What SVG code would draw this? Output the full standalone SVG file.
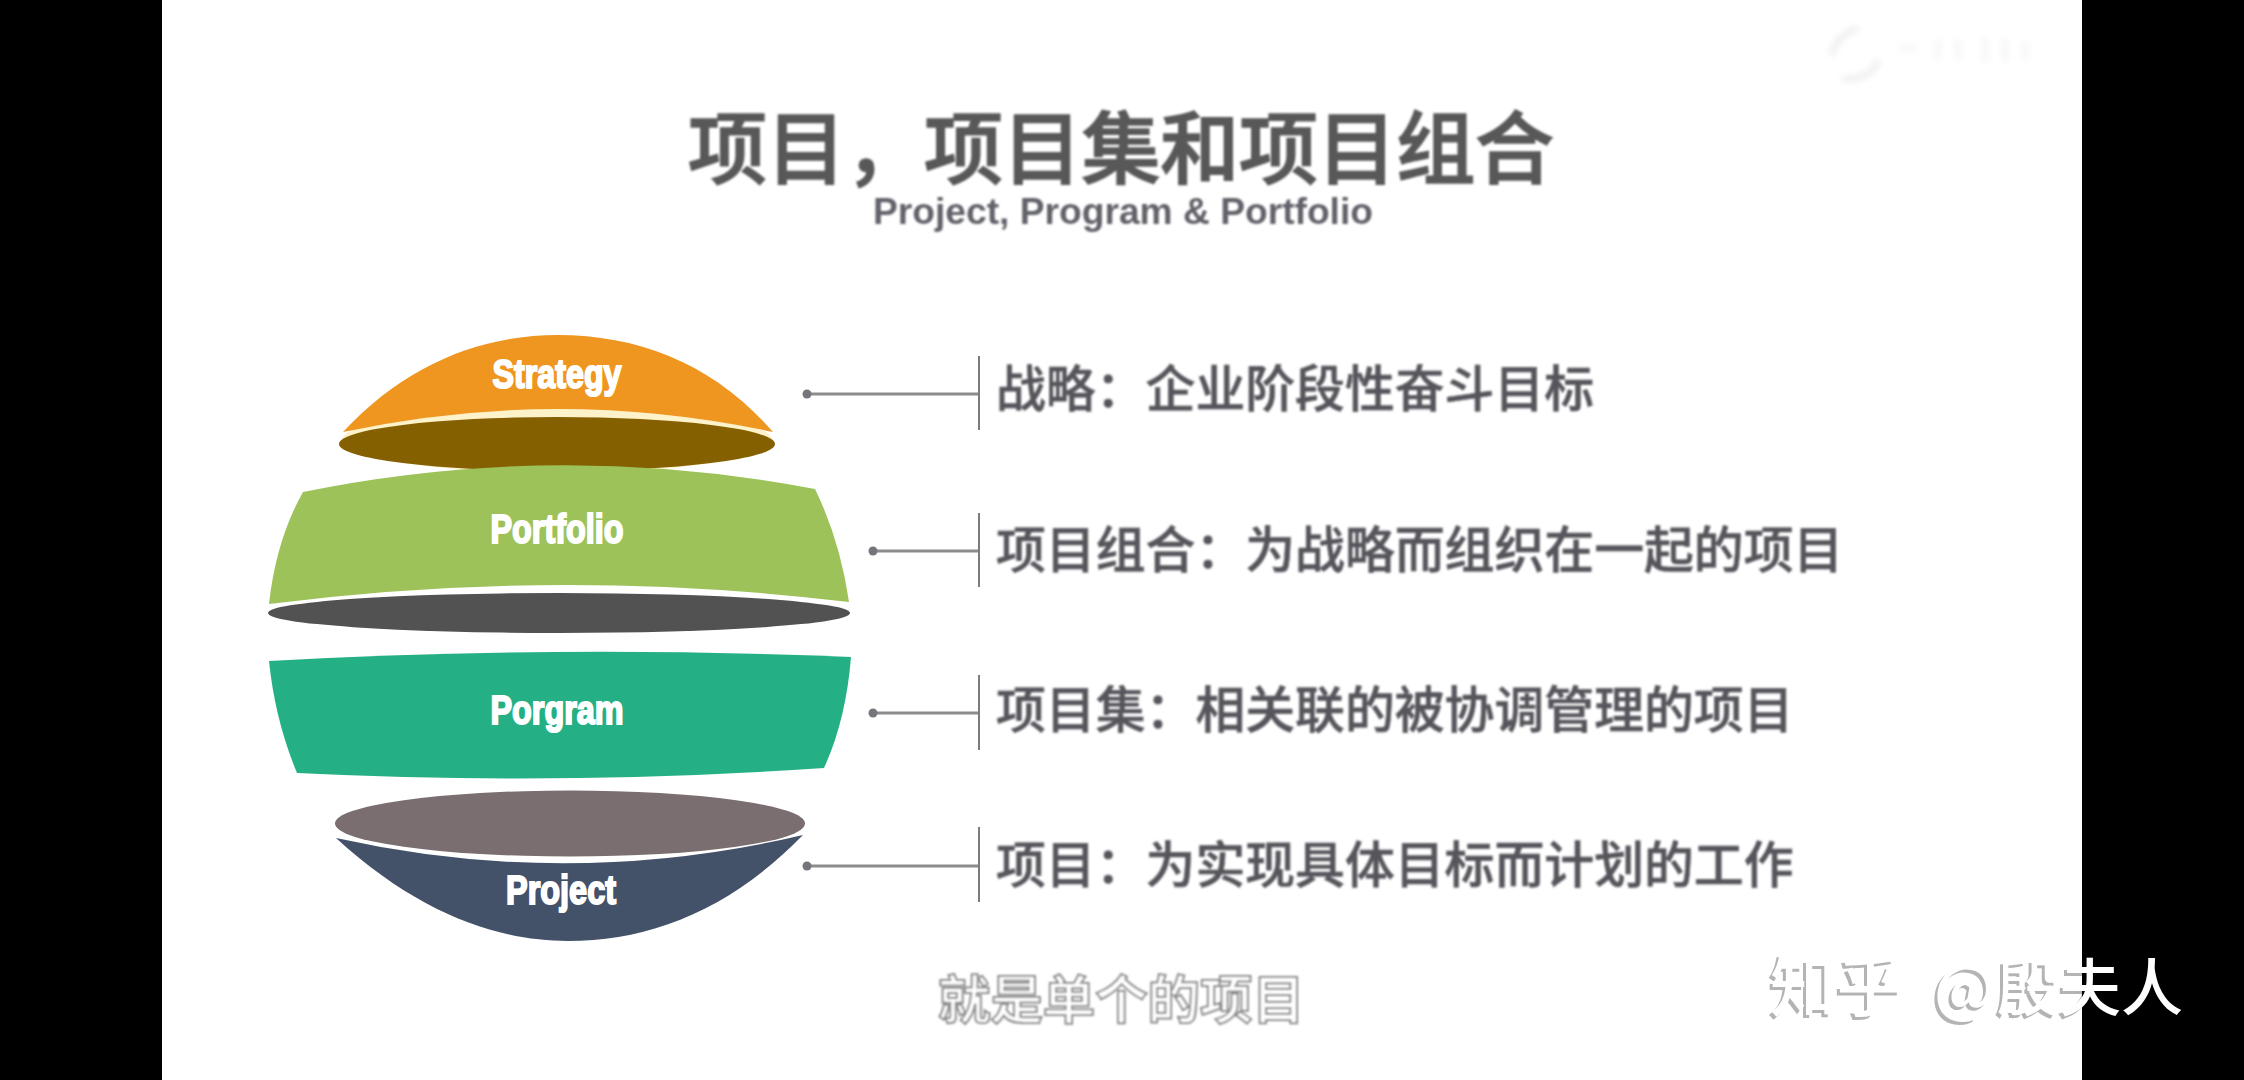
<svg xmlns="http://www.w3.org/2000/svg" width="2244" height="1080" viewBox="0 0 2244 1080">
<style>
text{font-family:"Noto Sans CJK SC","Liberation Sans",sans-serif}
.title{font-size:79px;font-weight:500;fill:#585858;stroke:#585858;stroke-width:1.6px}
.sub{font-family:"Liberation Sans",Arial,sans-serif;font-size:36px;font-weight:700;fill:#62626a}
.row{font-size:49.85px;font-weight:500;fill:#55555c;stroke:#55555c;stroke-width:0.6px}
.lab{font-family:"Liberation Sans",Arial,sans-serif;font-size:40px;font-weight:700;fill:#fff;stroke:#fff;stroke-width:2px;text-anchor:middle}
.cap{font-size:52.400px;font-weight:700;fill:#fff;stroke:#8a8a8a;stroke-width:2px}
.wm{font-size:66.500px;font-weight:500}
.wm2{font-size:62px}
.h{stroke:#8c8c8c;stroke-width:3;fill:none}
.v{stroke:#7c7c7c;stroke-width:2;fill:none}
.d{fill:#75757b}
</style>
<defs>
<filter id="soft" x="-5%" y="-20%" width="110%" height="140%"><feGaussianBlur stdDeviation="0.8"/></filter>
<filter id="faint" x="-20%" y="-20%" width="140%" height="140%"><feGaussianBlur stdDeviation="3"/></filter>
<clipPath id="onpage"><rect x="162" y="0" width="1920" height="1080"/></clipPath>
</defs>
<rect x="0" y="0" width="2244" height="1080" fill="#000"/>
<rect x="162" y="0" width="1920" height="1080" fill="#fff"/>

<g id="logo-mark" filter="url(#faint)" fill="none" stroke="#eeeeee" stroke-width="6">
<path d="M1832 55 C1834 42 1845 32 1858 28"/>
<path d="M1878 60 C1875 72 1862 80 1842 79"/>
<path d="M1900 48 H1916 M1938 40 V60 M1958 40 V60 M1985 38 V62 M2005 38 V62 M2025 42 V60" stroke="#f7f7f7" stroke-width="7"/>
</g>

<g id="title" filter="url(#soft)">
<text class="title" x="688" y="178" textLength="866" lengthAdjust="spacing">项目，项目集和项目组合</text>
<text class="sub" x="873" y="224" textLength="500" lengthAdjust="spacingAndGlyphs">Project, Program &amp; Portfolio</text>
</g>

<g id="connectors">
<path class="h" d="M807 394H979"/><path class="v" d="M979 356V430"/><circle class="d" cx="807" cy="394" r="4.5"/>
<path class="h" d="M873 551H979"/><path class="v" d="M979 513V587"/><circle class="d" cx="873" cy="551" r="4.5"/>
<path class="h" d="M873 713H979"/><path class="v" d="M979 675V750"/><circle class="d" cx="873" cy="713" r="4.5"/>
<path class="h" d="M807 866H979"/><path class="v" d="M979 827V902"/><circle class="d" cx="807" cy="866" r="4.5"/>
</g>

<g id="strategy">
<ellipse cx="557" cy="440" rx="215" ry="33" fill="#fdf2c9"/>
<path d="M343 432C405 365 480 335 558 335C640 335 715 365 773 432Q558 386 343 432Z" fill="#ee9620"/>
<ellipse cx="557" cy="444" rx="218" ry="27" fill="#846000"/>
<text class="lab" x="557" y="388" textLength="129" lengthAdjust="spacingAndGlyphs">Strategy</text>
</g>

<g id="portfolio">
<path d="M303 492Q558 440 815 489Q840 540 849 602Q558 567 269 604Q276 540 303 492Z" fill="#9dc25a"/>
<ellipse cx="559" cy="613" rx="291" ry="20" fill="#525252"/>
<text class="lab" x="557" y="543" textLength="133" lengthAdjust="spacingAndGlyphs">Portfolio</text>
</g>

<g id="program">
<path d="M269 661Q560 645 851 657Q846 720 824 768Q560 786 297 773Q275 720 269 661Z" fill="#24b084"/>
<text class="lab" x="557" y="724" textLength="133" lengthAdjust="spacingAndGlyphs">Porgram</text>
</g>

<g id="project">
<path d="M336 838C420 915 500 941 568 941C650 941 730 910 803 835Q570 890 336 838Z" fill="#435169"/>
<ellipse cx="570" cy="823.500" rx="235" ry="33" fill="#7a6e70"/>
<text class="lab" x="561" y="904" textLength="110" lengthAdjust="spacingAndGlyphs">Project</text>
</g>

<g id="descriptions" filter="url(#soft)">
<text class="row" x="996" y="407">战略：企业阶段性奋斗目标</text>
<text class="row" x="996" y="568">项目组合：为战略而组织在一起的项目</text>
<text class="row" x="996" y="728">项目集：相关联的被协调管理的项目</text>
<text class="row" x="996" y="883">项目：为实现具体目标而计划的工作</text>
</g>

<g id="caption" filter="url(#soft)">
<text class="cap" x="938" y="1019">就是单个的项目</text>
</g>

<g id="watermark">
<text class="wm" clip-path="url(#onpage)" x="1767" y="1014" fill="#b4b4b4">知乎 <tspan class="wm2" x="1931">@</tspan><tspan class="wm2" x="1994">殷夫人</tspan></text>
<text class="wm" x="1770" y="1011" fill="#fff">知乎 <tspan class="wm2" x="1934">@</tspan><tspan class="wm2" x="1997">殷夫人</tspan></text>
</g>
</svg>
